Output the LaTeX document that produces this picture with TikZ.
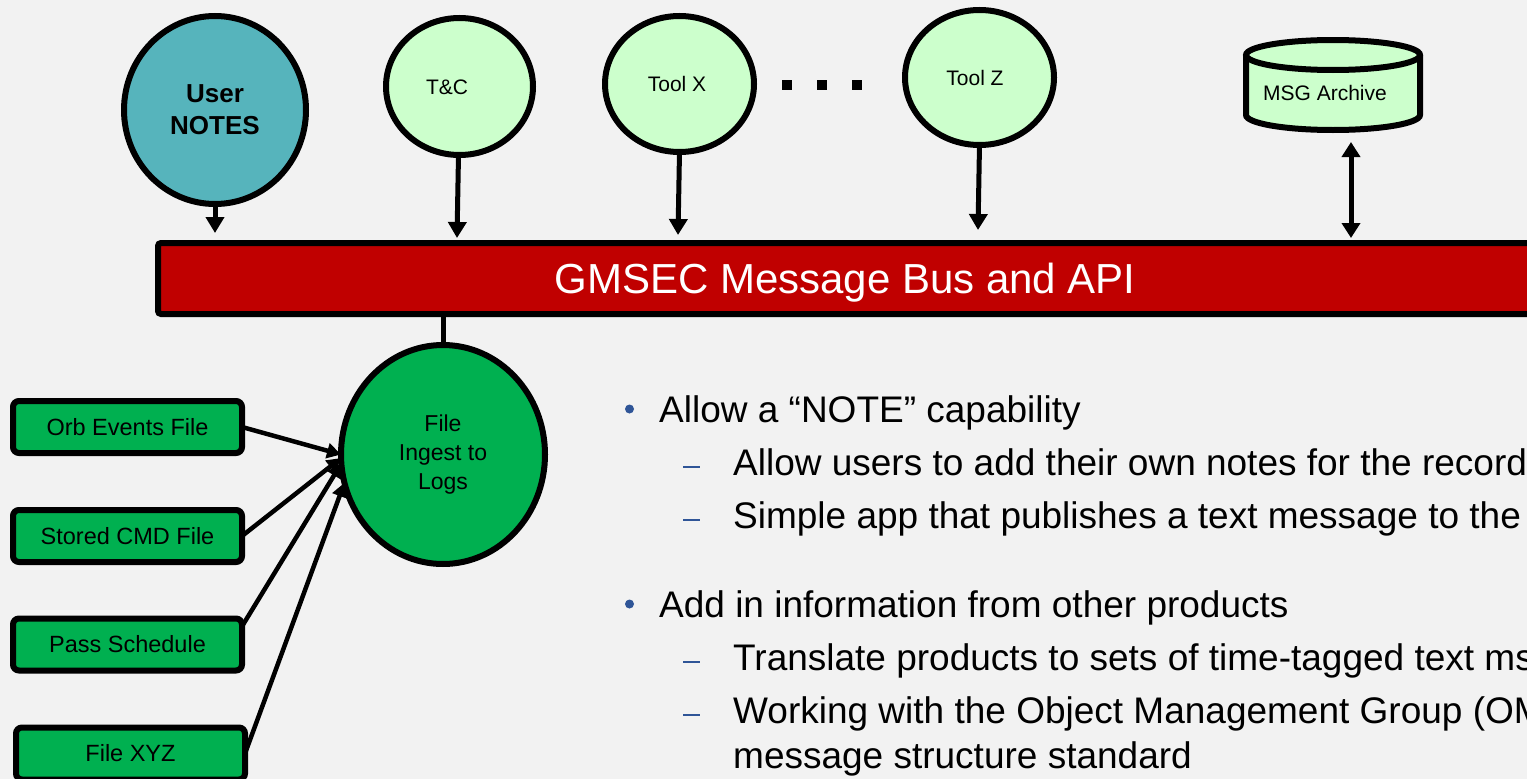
\documentclass[tikz,border=0pt]{standalone}
\usepackage{fontspec}
\setmainfont{Liberation Sans}
\usetikzlibrary{arrows.meta,shapes.geometric}
\definecolor{bg}{HTML}{F2F2F2}
\definecolor{teal}{HTML}{56B4BC}
\definecolor{lgreen}{HTML}{CCFFCC}
\definecolor{dgreen}{HTML}{00B050}
\definecolor{busred}{HTML}{C00000}
\definecolor{bulblue}{HTML}{2F5597}
\tikzset{
  circ/.style={ellipse, draw=black, line width=6pt, inner sep=0pt, outer sep=0pt},
  filebox/.style={rectangle, draw=black, line width=6pt, fill=dgreen, rounded corners=6pt,
    inner sep=0pt, outer sep=0pt, minimum width=229pt, minimum height=52pt,
    font=\fontsize{23.5}{28}\selectfont},
  conn/.style={draw=black, line width=5pt},
  arr/.style={conn, -{Triangle[width=18pt,length=16pt]}},
  sarr/.style={conn, line width=4.5pt, -{Triangle[width=15pt,length=14pt]}},
  darr/.style={conn, {Triangle[width=18pt,length=15pt]}-{Triangle[width=18pt,length=15pt]}},
  bigtxt/.style={anchor=base west, font=\fontsize{37}{44}\selectfont, inner sep=0pt},
  sq/.style={rectangle, fill=black, minimum size=10pt, inner sep=0pt},
  bul/.style={circle, fill=bulblue, minimum size=9pt, inner sep=0pt},
}
\begin{document}
\begin{tikzpicture}[x=1pt,y=-1pt]
\useasboundingbox (0,0) rectangle (1527,779);
\clip (0,0) rectangle (1527,779);
\fill[bg] (0,0) rectangle (1527,779);

% top circles
\node[circ, fill=teal, minimum width=182pt, minimum height=188pt, align=center,
  font=\bfseries\fontsize{26}{32}\selectfont] (un) at (215,110) {User\\NOTES};
\node[circ, fill=lgreen, minimum width=147pt, minimum height=137pt] (tc) at (459.5,86.5) {};
\node[anchor=base, font=\fontsize{21}{25}\selectfont, inner sep=0pt] (tct) at (447,94) {T\&C};
\node[circ, fill=lgreen, minimum width=149pt, minimum height=136pt,
  font=\fontsize{21}{25}\selectfont] (tx) at (679.5,84) {\hspace*{-5pt}Tool X};
\node[circ, fill=lgreen, minimum width=149pt, minimum height=135pt,
  font=\fontsize{21}{25}\selectfont] (tz) at (979.5,77.5) {\hspace*{-9pt}Tool Z};

% dots
\node[sq] (d1) at (787,84.5) {};
\node[sq] (d2) at (822,84.5) {};
\node[sq] (d3) at (857,84.5) {};

% archive cylinder
\node[inner sep=0pt, outer sep=0pt, minimum width=180pt, minimum height=95pt] (arch) at (1333,85.5) {};
\fill[lgreen] (1246,55) -- (1246,115) arc[start angle=180, end angle=0, x radius=87, y radius=15] -- (1420,55) -- cycle;
\draw[line width=6pt] (1246,55) -- (1246,115) arc[start angle=180, end angle=0, x radius=87, y radius=15] -- (1420,55);
\draw[line width=6pt, fill=lgreen] (1333,55) ellipse[x radius=87, y radius=15];
\node[anchor=base, font=\fontsize{21}{25}\selectfont, inner sep=0pt] (archt) at (1325,100) {MSG Archive};

% bus
\node[rectangle, draw=black, line width=6pt, fill=busred, rounded corners=3pt,
  minimum width=1374pt, minimum height=71pt, inner sep=0pt, outer sep=0pt] (bus) at (845,278.5) {};
\node[anchor=base, text=white, font=\fontsize{42}{50}\selectfont, inner sep=0pt] (bust) at (845,293) {GMSEC Message Bus and API};

% connector end points on the bus
\coordinate (bun) at (215,233);
\coordinate (btc) at (457,238);
\coordinate (btx) at (678,235);
\coordinate (btz) at (978,230);
\coordinate (barch) at (1351,238);

\draw[arr] (un.south) -- (bun);
\draw[arr] ([xshift=-1pt]tc.south) -- (btc);
\draw[arr] (tx.south) -- (btx);
\draw[arr] (tz.south) -- (btz);
\draw[darr] ([xshift=18pt,yshift=-9pt]arch.south) -- (barch);

% file ingest
\node[circ, fill=dgreen, minimum width=204pt, minimum height=219pt, align=center,
  font=\fontsize{23}{29}\selectfont] (fi) at (443,454.5) {File\\Ingest to\\Logs};
\draw[conn] (fi.north) -- (fi.north |- bus.south);

% file boxes
\node[filebox] (ob) at (127.5,427) {Orb Events File};
\node[filebox] (sc) at (127.5,536) {Stored CMD File};
\node[filebox] (ps) at (127.5,644.5) {Pass Schedule};
\node[filebox] (fx) at (130.5,753.5) {File XYZ};

\draw[sarr] (ob.east) -- (fi.180);
\draw[sarr] (sc.east) -- (fi.182);
\draw[sarr] (ps.9) -- (fi.185);
\draw[sarr] (fx.east) -- (fi.196);

% bullet text
\node[bul] (bu1) at (629.5,409) {};
\node[bul] (bu2) at (629.5,604) {};
\draw[bulblue, line width=1.5pt] (683,467) -- (700,467);
\draw[bulblue, line width=1.5pt] (683,520) -- (700,520);
\draw[bulblue, line width=1.5pt] (683,662) -- (700,662);
\draw[bulblue, line width=1.5pt] (683,715) -- (700,715);
\node[bigtxt] (l1) at (659,422) {Allow a “NOTE” capability};
\node[bigtxt] (l2) at (733,475) {Allow users to add their own notes for the record};
\node[bigtxt] (l3) at (733,528) {Simple app that publishes a text message to the};
\node[bigtxt] (l4) at (659,617) {Add in information from other products};
\node[bigtxt] (l5) at (733,670) {Translate products to sets of time-tagged text ms};
\node[bigtxt] (l6) at (733,723) {Working with the Object Management Group (OM};
\node[bigtxt] (l7) at (733,768) {message structure standard};
\end{tikzpicture}
\end{document}
